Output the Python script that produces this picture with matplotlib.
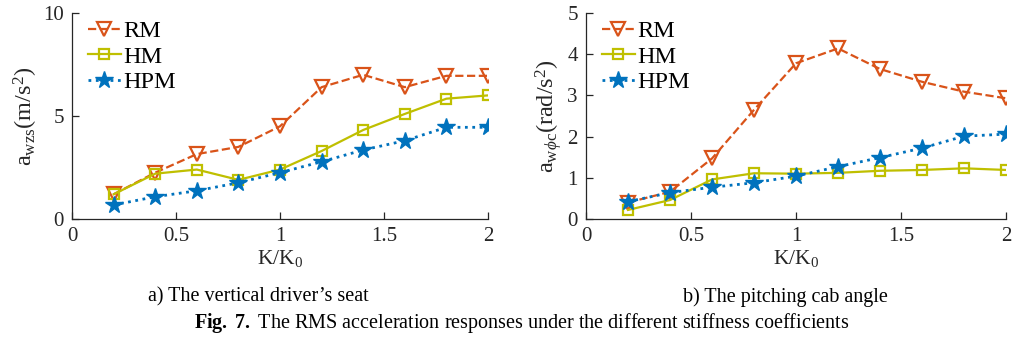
import matplotlib
matplotlib.use('Agg')
import matplotlib.pyplot as plt

plt.rcParams['font.family'] = ['Liberation Serif', 'DejaVu Serif']
plt.rcParams['mathtext.fontset'] = 'custom'
plt.rcParams['mathtext.rm'] = 'Liberation Serif'
plt.rcParams['mathtext.it'] = 'Liberation Serif:italic'
plt.rcParams['mathtext.bf'] = 'Liberation Serif:bold'

k_ratio = [0.2, 0.4, 0.6, 0.8, 1.0, 1.2, 1.4, 1.6, 1.8, 2.0]

# a) vertical driver's seat
seat_rm = [1.2, 2.25, 3.15, 3.5, 4.5, 6.4, 7.0, 6.4, 6.95, 6.95]
seat_hm = [1.2, 2.2, 2.4, 1.9, 2.4, 3.3, 4.32, 5.1, 5.84, 6.0]
seat_hpm = [0.68, 1.08, 1.37, 1.76, 2.25, 2.78, 3.35, 3.8, 4.45, 4.45]

# b) pitching cab angle
cab_rm = [0.4, 0.66, 1.47, 2.65, 3.78, 4.14, 3.64, 3.33, 3.09, 2.93]
cab_hm = [0.22, 0.46, 0.96, 1.11, 1.1, 1.12, 1.17, 1.19, 1.23, 1.19]
cab_hpm = [0.42, 0.64, 0.77, 0.88, 1.04, 1.27, 1.49, 1.72, 2.01, 2.06]

RM_C = '#D95319'
HM_C = '#BFBF00'
HPM_C = '#0072BD'
TXT = '#262626'

fig = plt.figure(figsize=(10.16, 3.41), dpi=100)
ax1 = fig.add_axes([0.0709, 0.3578, 0.4094, 0.6041])
ax2 = fig.add_axes([0.5768, 0.3578, 0.4134, 0.6041])


def draw(ax, rm, hm, hpm, ymax, yticks, ylabel):
    ax.plot(k_ratio, rm, '--', color=RM_C, lw=1.6, marker='v', ms=10,
            mfc='none', mew=1.6, label='RM')
    ax.plot(k_ratio, hm, '-', color=HM_C, lw=1.6, marker='s', ms=7,
            mfc='none', mew=1.6, label='HM')
    ax.plot(k_ratio, hpm, ':', color=HPM_C, lw=2.0, marker='*', ms=13,
            label='HPM')
    ax.set_xlim(0, 2)
    ax.set_ylim(0, ymax)
    ax.set_xticks([0, 0.5, 1, 1.5, 2])
    ax.set_xticklabels(['0', '0.5', '1', '1.5', '2'])
    ax.set_yticks(yticks)
    ax.spines['top'].set_visible(False)
    ax.spines['right'].set_visible(False)
    for s in ('left', 'bottom'):
        ax.spines[s].set_color(TXT)
        ax.spines[s].set_linewidth(0.9)
    ax.tick_params(direction='in', length=5, width=0.9, colors=TXT,
                   labelsize=15, pad=6)
    ax.set_xlabel(r'K/K$_0$', fontsize=15.5, color=TXT, labelpad=1)
    ax.set_ylabel(ylabel, fontsize=17.5, color=TXT, labelpad=2)
    ax.legend(loc='upper left', frameon=False, fontsize=17.5, handlelength=1.35,
              handletextpad=0.1, labelspacing=0.14, borderaxespad=0,
              borderpad=0, bbox_to_anchor=(0.038, 0.965))


draw(ax1, seat_rm, seat_hm, seat_hpm, 10, [0, 5, 10], r'a$_{\rm wzs}$(m/s$^2$)')
draw(ax2, cab_rm, cab_hm, cab_hpm, 5, [0, 1, 2, 3, 4, 5],
     r'a$_{{\rm w}\phi{\rm c}}$(rad/s$^2$)')

fig.text(0.254, 0.128, 'a) The vertical driver\u2019s seat', ha='center',
         va='center', fontsize=14.5, color='black')
fig.text(0.773, 0.128, 'b) The pitching cab angle', ha='center',
         va='center', fontsize=14.5, color='black')
fig.text(0.513, 0.052, r'$\mathbf{Fig.}$ $\mathbf{7.}$ The RMS acceleration responses under the different stiffness coefficients',
         ha='center', va='center', fontsize=14.5, color='black')

fig.savefig('out.png', dpi=100)
